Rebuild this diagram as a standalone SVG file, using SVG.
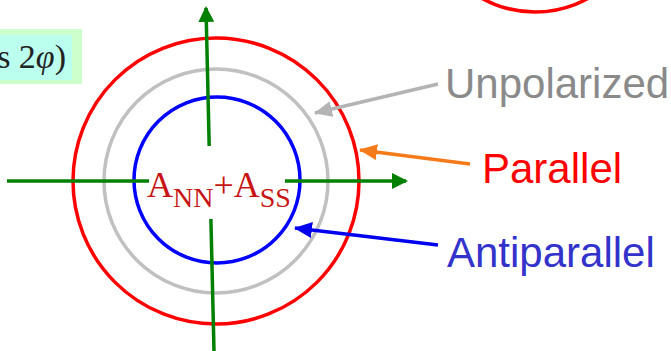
<svg xmlns="http://www.w3.org/2000/svg" width="671" height="351" viewBox="0 0 671 351">
<style>
.lbl{font-family:"Liberation Sans",Arial,sans-serif;font-size:42px}
.ser{font-family:"Liberation Serif","Times New Roman",serif}
.ring{fill:none;stroke-width:3.5}
.axis{stroke:#008000;stroke-width:3.5;fill:none}
</style>
<defs>
<marker id="hg" markerWidth="16" markerHeight="16" viewBox="0 0 16 16" refX="14" refY="8" orient="auto" markerUnits="userSpaceOnUse"><path d="M0,0 L16,8 L0,16 z" fill="#008000"/></marker>
<marker id="hgray" markerWidth="18" markerHeight="16" viewBox="0 0 18 16" refX="17" refY="8" orient="auto" markerUnits="userSpaceOnUse"><path d="M0,0 L18,8 L0,16 z" fill="#b4b4b4"/></marker>
<marker id="hor" markerWidth="18" markerHeight="16" viewBox="0 0 18 16" refX="17" refY="8" orient="auto" markerUnits="userSpaceOnUse"><path d="M0,0 L18,8 L0,16 z" fill="#f57a1a"/></marker>
<marker id="hbl" markerWidth="18" markerHeight="16" viewBox="0 0 18 16" refX="17" refY="8" orient="auto" markerUnits="userSpaceOnUse"><path d="M0,0 L18,8 L0,16 z" fill="#0000ee"/></marker>
</defs>
<g id="formula-box">
<rect x="0" y="29" width="82" height="55" fill="#ccffcc"/>
<rect x="0" y="35" width="72" height="45" fill="#bbffee"/>
<text class="ser" x="66" y="68" style="font-size:34px" text-anchor="end" fill="#222">s 2<tspan font-style="italic">φ</tspan>)</text>
</g>
<g id="top-circle">
<circle class="ring" cx="535" cy="-98" r="110" stroke="#ff0000"/>
</g>
<g id="rings">
<circle id="parallel-ring" class="ring" cx="216" cy="181" r="143" stroke="#ff0000"/>
<circle id="unpolarized-ring" class="ring" cx="216" cy="181" r="112" stroke="#c0c0c0"/>
<circle id="antiparallel-ring" class="ring" cx="217" cy="180" r="83" stroke="#0000ff"/>
</g>
<g id="connectors">
<line class="axis" x1="7" y1="181" x2="149" y2="181"/>
<line class="axis" x1="285" y1="181" x2="406" y2="181" marker-end="url(#hg)"/>
<line class="axis" x1="209.2" y1="146" x2="206" y2="8" marker-end="url(#hg)"/>
<line class="axis" x1="210.9" y1="219" x2="214" y2="351"/>
<line x1="438" y1="84" x2="315" y2="113" stroke="#b4b4b4" stroke-width="3.5" marker-end="url(#hgray)"/>
<line x1="470" y1="164" x2="360" y2="150" stroke="#f57a1a" stroke-width="3.5" marker-end="url(#hor)"/>
<line x1="438" y1="245" x2="295" y2="228" stroke="#0000ee" stroke-width="3.5" marker-end="url(#hbl)"/>
</g>
<g id="center-label">
<text class="ser" x="147" y="197" style="font-size:36px" fill="#c81414">A<tspan style="font-size:28px" dy="10">NN</tspan><tspan dy="-10">+A</tspan><tspan style="font-size:28px" dy="10">SS</tspan></text>
</g>
<g id="label-unpolarized"><text class="lbl" x="445" y="98" fill="#8a8a8a">Unpolarized</text></g>
<g id="label-parallel"><text class="lbl" x="482" y="183" fill="#ff0000">Parallel</text></g>
<g id="label-antiparallel"><text class="lbl" x="447" y="267" fill="#3333cc">Antiparallel</text></g>
</svg>
